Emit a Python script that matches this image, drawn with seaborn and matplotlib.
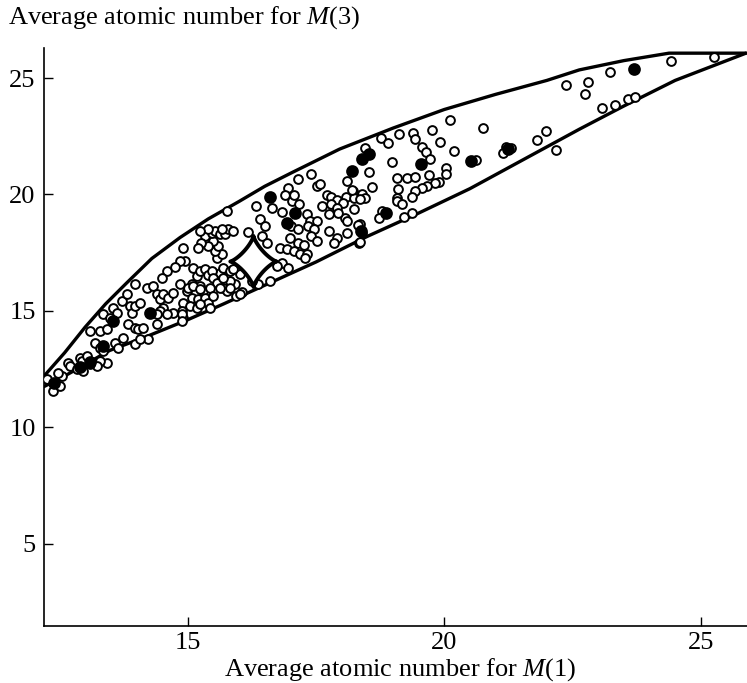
import numpy as np
import matplotlib
matplotlib.use("Agg")
import matplotlib.pyplot as plt
import seaborn as sns
from matplotlib.path import Path

sns.set_theme(style="ticks")
plt.rcParams['font.family'] = ['Liberation Serif', 'DejaVu Serif']
plt.rcParams['mathtext.fontset'] = 'custom'
plt.rcParams['mathtext.rm'] = 'Liberation Serif'
plt.rcParams['mathtext.it'] = 'Liberation Serif:italic'

# ---------------- data ----------------
x_ticks = [15, 20, 25]
y_ticks = [5, 10, 15, 20, 25]
x_label = "Average atomic number for $M$(1)"
y_label = "Average atomic number for $M$(3)"

upper_x = [12.2, 12.6, 13.0, 13.4, 13.81, 14.3, 14.85, 15.4, 16.0, 16.5, 17.04,
           17.96, 19.0, 20.0, 21.0, 22.0, 22.63, 23.5, 24.38, 25.0, 25.88]
upper_y = [12.2, 13.2, 14.3, 15.3, 16.2, 17.25, 18.15, 18.95, 19.7, 20.35, 20.95,
           21.95, 22.85, 23.65, 24.3, 24.9, 25.35, 25.75, 26.07, 26.07, 26.07]

lower_x = [12.2, 12.6, 13.48, 14.2, 14.98, 15.7, 16.4, 17.5, 18.5, 19.5, 20.5,
           21.46, 22.63, 23.5, 24.5, 25.88]
lower_y = [11.75, 12.2, 13.3, 13.9, 14.6, 15.3, 16.0, 17.1, 18.2, 19.2, 20.25,
           21.4, 22.8, 23.8, 24.9, 26.07]

open_x = [
    22.37, 22.8, 22.74, 23.23, 23.08, 23.33, 23.58, 23.72, 24.42, 25.25, 21.99, 21.81, 22.18,
    20.12, 20.76, 19.11, 19.4, 19.42, 19.77, 19.92, 18.76, 18.91, 18.45, 19.57, 19.65, 19.73,
    20.18, 20.62, 21.21, 21.3, 21.15, 18.99, 18.54, 19.07, 19.28, 19.42, 19.71, 19.9, 20.04,
    20.04, 19.81, 19.67, 19.57, 19.42, 19.38, 19.09, 19.07, 19.07, 19.18, 18.6, 18.23, 18.08,
    18.25, 18.39, 18.45, 18.78, 18.72, 18.35, 19.22, 19.38, 18.33, 18.06, 18.11,
    15.76, 16.34, 16.65, 16.83, 16.95, 17.14, 17.41, 16.89, 17.04, 17.16, 17.08, 17.51, 17.57,
    17.71, 17.8, 17.9, 18.02, 17.8, 18.1, 18.21, 18.35, 18.25, 17.9, 17.92, 17.76, 17.61,
    17.32, 17.38, 17.51, 17.34, 17.47, 16.93, 17.02, 17.14, 16.99, 17.14, 17.26, 17.41, 17.51,
    17.76, 17.9, 17.86, 18.1, 18.31, 18.39, 18.35, 16.4, 16.5, 16.44, 16.54, 16.17, 16.79,
    16.93, 17.08, 17.18, 17.32, 17.28, 16.83, 16.95, 16.73, 16.6, 16.36, 16.25, 16.01, 15.92,
    16.05, 15.95, 15.82, 15.68, 15.76, 15.62, 15.68, 15.57, 15.66, 15.53, 15.59, 15.49, 15.39,
    15.33, 15.25, 15.2, 15.47, 15.53, 15.39, 15.24, 15.62, 15.72, 15.78, 15.88, 15.66, 14.9,
    14.94, 14.85, 15.1, 15.18, 15.24, 15.33, 15.39, 15.47, 15.49, 15.57, 15.08, 15.24, 15.29,
    15.43, 14.98, 15.08, 15.2, 15.33, 15.39, 14.9, 15.04, 14.88, 15.68, 15.82, 15.88, 14.9,
    15.43, 16.01,
    12.26, 12.38, 12.51, 12.55, 12.47, 12.67, 12.71, 12.9, 12.84, 12.96, 13.09, 13.29, 13.43,
    13.19, 13.29, 13.35, 13.43, 13.29, 13.23, 13.09, 12.94, 13.04, 13.54, 13.62, 13.35, 13.48,
    13.72, 13.81, 13.97, 13.87, 13.91, 13.97, 14.07, 13.83, 13.97, 14.03, 14.2, 14.32, 14.4,
    14.46, 14.52, 14.61, 14.71, 14.85, 15.0, 15.1, 15.24, 15.49, 15.62, 15.18, 15.24, 15.82,
    14.71, 14.88, 14.52, 14.46, 14.4, 14.13, 14.4, 14.59, 14.88, 13.97, 14.22, 14.07, 13.58,
    13.74, 13.64, 14.6, 14.75, 14.5,
]
open_y = [
    24.7, 24.83, 24.31, 25.26, 23.7, 23.84, 24.1, 24.18, 25.73, 25.9, 22.72, 22.33, 21.9,
    23.2, 22.85, 22.59, 22.64, 22.38, 22.77, 22.25, 22.42, 22.2, 21.99, 22.03, 21.82, 21.52,
    21.86, 21.47, 22.03, 21.99, 21.78, 21.39, 20.96, 20.7, 20.7, 20.74, 20.83, 20.53, 21.13,
    20.87, 20.49, 20.36, 20.27, 20.14, 19.89, 20.23, 19.84, 19.71, 19.59, 20.32, 20.14, 19.89,
    19.84, 20.02, 19.84, 19.28, 18.98, 18.73, 19.03, 19.2, 17.91, 18.98, 18.85,
    19.28, 19.5, 19.41, 19.24, 20.27, 20.66, 20.87, 19.97, 19.71, 19.59, 19.97, 20.36, 20.44,
    19.97, 19.89, 19.76, 19.63, 19.59, 20.57, 20.19, 19.8, 19.37, 19.41, 19.2, 19.16, 19.5,
    19.16, 18.85, 18.85, 18.64, 18.51, 18.77, 18.64, 18.51, 18.12, 17.91, 17.82, 18.21, 18.0,
    18.43, 18.12, 17.91, 18.34, 18.68, 18.34, 17.95, 18.94, 18.64, 18.21, 17.91, 18.38, 17.69,
    17.65, 17.57, 17.44, 17.44, 17.26, 17.05, 16.83, 16.92, 16.28, 16.15, 16.28, 16.58, 16.15,
    15.8, 15.63, 16.28, 15.98, 15.85, 16.62, 16.84, 17.26, 17.44, 17.57, 17.78, 18.0, 17.78,
    18.21, 17.91, 17.69, 18.34, 18.43, 18.51, 18.43, 18.3, 18.3, 18.51, 18.43, 18.51, 17.69,
    17.14, 17.14, 16.84, 16.49, 16.71, 16.79, 16.53, 16.71, 16.41, 16.19, 16.15, 16.06, 15.85,
    15.98, 15.85, 15.55, 15.5, 15.55, 15.33, 15.33, 15.2, 14.99, 16.41, 16.71, 16.79, 14.69,
    15.12, 15.72,
    12.06, 11.55, 11.76, 12.19, 12.32, 12.75, 12.62, 12.97, 12.49, 12.41, 14.13, 14.13, 14.21,
    13.61, 13.4, 13.27, 12.75, 12.84, 12.62, 12.71, 12.84, 13.05, 15.12, 14.9, 14.86, 14.69,
    15.42, 15.72, 16.15, 15.2, 14.9, 15.2, 15.33, 14.43, 14.26, 14.21, 15.98, 16.06, 15.72,
    15.5, 15.72, 15.55, 15.76, 16.15, 15.98, 16.06, 15.93, 15.63, 15.98, 15.12, 15.29, 15.98,
    14.9, 14.86, 15.12, 14.99, 14.86, 14.26, 14.43, 14.86, 14.56, 13.57, 13.78, 13.78, 13.61,
    13.83, 13.4, 16.7, 16.9, 16.4,
]

solid_x = [23.7, 18.54, 18.39, 19.55, 20.53, 18.21, 18.87, 18.37, 21.25, 16.93, 16.6,
           17.1, 14.26, 12.9, 13.1, 13.35, 13.55, 12.4]
solid_y = [25.4, 21.73, 21.52, 21.3, 21.43, 21.0, 19.2, 18.43, 21.95, 18.77, 19.9,
           19.2, 14.9, 12.6, 12.8, 13.5, 14.55, 11.9]

star_x = [16.27]
star_y = [17.14]

# ---------------- figure ----------------
fig = plt.figure(figsize=(7.47, 6.83), dpi=100)
ax = fig.add_axes([0.059, 0.083, 0.941, 0.847])

sns.lineplot(x=upper_x, y=upper_y, ax=ax, color='black', lw=2.4,
             sort=False, estimator=None, zorder=2)
sns.lineplot(x=lower_x, y=lower_y, ax=ax, color='black', lw=2.4,
             sort=False, estimator=None, zorder=2)

sns.scatterplot(x=open_x, y=open_y, ax=ax, s=40, color='white',
                edgecolor='black', linewidth=1.4, zorder=3)
sns.scatterplot(x=solid_x, y=solid_y, ax=ax, s=60, color='black',
                edgecolor='black', linewidth=1.4, zorder=3)

# four-pointed (astroid) star marker
t = np.linspace(0, 2 * np.pi, 200)
verts = np.column_stack([np.sign(np.cos(t)) * np.abs(np.cos(t)) ** 2.6,
                         1.1 * np.sign(np.sin(t)) * np.abs(np.sin(t)) ** 2.6])
star_marker = Path(verts, closed=True)
sns.scatterplot(x=star_x, y=star_y, ax=ax, marker=star_marker, s=1350,
                color='white', edgecolor='black', linewidth=2.8, zorder=4)

ax.set_xlim(12.2, 25.9)
ax.set_ylim(1.45, 26.3)
ax.set_xticks(x_ticks)
ax.set_yticks(y_ticks)
ax.tick_params(direction='in', length=6.5, width=1.0, labelsize=19,
               colors='black', pad=6)
ax.tick_params(axis='x', pad=4)

for side in ['top', 'right']:
    ax.spines[side].set_visible(False)
for side in ['left', 'bottom']:
    ax.spines[side].set_linewidth(1.2)
    ax.spines[side].set_color('black')

ax.set_xlabel(x_label, fontsize=19, color='black', va='top')
ax.xaxis.set_label_coords(0.506, -0.052)
ax.set_ylabel(y_label, fontsize=19, color='black', rotation=0,
              ha='left', va='center')
ax.yaxis.set_label_coords(-0.052, 1.052)

fig.savefig("out.png", dpi=100)
